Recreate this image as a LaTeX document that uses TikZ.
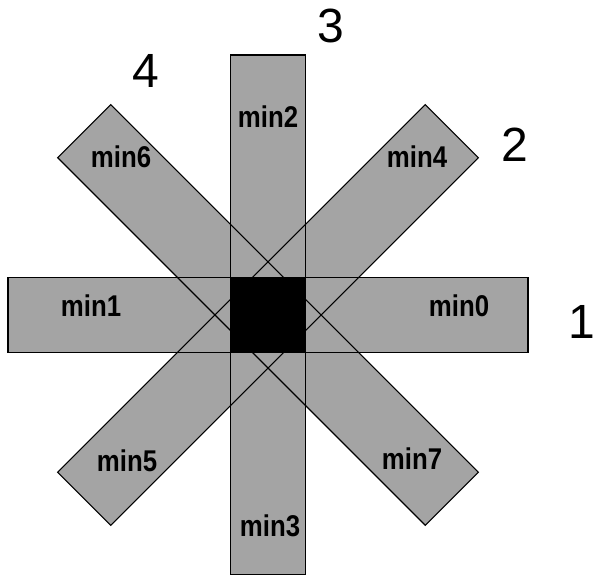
\documentclass[tikz,border=0pt]{standalone}
\usepackage{fontspec}
\setmainfont{Liberation Sans}
\newfontfamily\minfont[FakeStretch=0.86]{Liberation Sans Bold}
\usetikzlibrary{positioning}
\definecolor{barfill}{HTML}{A4A4A4}
\tikzset{
  barShape/.style={rectangle, minimum width=520pt, minimum height=75pt, inner sep=0pt},
  barFill/.style={barShape, fill=barfill, draw=none},
  barEdge/.style={barShape, draw=black, line width=1.1pt},
  minLabel/.style={font=\minfont\fontsize{30}{30}\selectfont, anchor=base, inner sep=0pt},
  dirLabel/.style={font=\fontsize{48}{48}\selectfont, anchor=base, inner sep=0pt}
}
\begin{document}
\begin{tikzpicture}[x=1pt, y=1pt]
  \useasboundingbox (0,0) rectangle (595,575);
  \coordinate (hub) at (268,260);
  % the four bars: fill first, outlines on top
  \foreach \a in {0,45,90,135}
    \node[barFill, rotate=\a] at (hub) {};
  \foreach \a in {0,45,90,135}
    \node[barEdge, rotate=\a] (bar\a) at (hub) {};
  \node[fill=black, minimum size=75pt, inner sep=0pt] (core) at (hub) {};
  % window labels
  \node[minLabel] (min0) at (459,258) {min0};
  \node[minLabel] (min1) at (91,258) {min1};
  \node[minLabel] (min2) at (268,447) {min2};
  \node[minLabel] (min3) at (270,38) {min3};
  \node[minLabel] (min4) at (417,407) {min4};
  \node[minLabel] (min5) at (127,103) {min5};
  \node[minLabel] (min6) at (121,407) {min6};
  \node[minLabel] (min7) at (412,105) {min7};
  % direction numbers
  \node[dirLabel] (dir1) at (582,236) {1};
  \node[dirLabel] (dir2) at (515,413) {2};
  \node[dirLabel] (dir3) at (331,532) {3};
  \node[dirLabel] (dir4) at (146,487) {4};
\end{tikzpicture}
\end{document}
